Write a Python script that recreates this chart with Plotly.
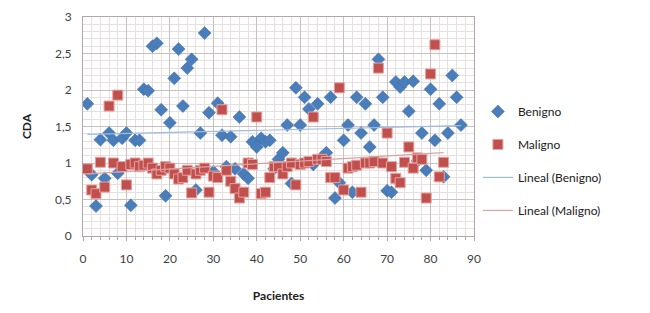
import numpy as np
import plotly.graph_objects as go

# Benigno series
ben_x = list(range(1, 88))
ben_y = [1.81, 0.84, 0.41, 1.32, 0.79, 1.41, 1.31, 0.86, 1.34, 1.41,
         0.42, 1.31, 1.31, 2.01, 1.99, 2.60, 2.64, 1.73, 0.55, 1.55,
         2.16, 2.56, 1.78, 2.30, 2.42, 0.63, 1.41, 2.78, 1.69, 0.88,
         1.82, 1.38, 0.95, 1.36, 0.92, 1.63, 0.85, 0.79, 1.29, 1.22,
         1.34, 1.29, 1.31, 0.92, 1.05, 1.14, 1.52, 0.72, 2.03, 1.52,
         1.90, 1.74, 0.98, 1.81, 1.08, 1.14, 1.90, 0.52, 0.73, 1.31,
         1.52, 0.60, 1.90, 1.41, 1.81, 1.22, 1.52, 2.42, 1.90, 0.62,
         0.60, 2.11, 2.04, 2.11, 1.71, 2.12, 1.03, 1.41, 0.90, 2.01,
         1.31, 1.81, 0.81, 1.41, 2.20, 1.90, 1.52]

# Maligno series
mal_x = list(range(1, 84))
mal_y = [0.92, 0.63, 0.58, 1.01, 0.67, 1.78, 1.00, 1.93, 0.95, 0.70,
         0.98, 1.00, 0.95, 0.97, 1.00, 0.93, 0.85, 0.90, 0.95, 0.93,
         0.85, 0.78, 0.80, 0.90, 0.59, 0.85, 0.90, 0.93, 0.60, 0.82,
         0.80, 1.73, 0.90, 0.75, 0.65, 0.52, 0.60, 1.00, 0.98, 1.63,
         0.58, 0.60, 0.80, 0.95, 0.95, 0.85, 0.95, 1.00, 0.70, 0.98,
         1.00, 1.02, 1.63, 1.05, 1.05, 1.02, 0.80, 0.80, 2.03, 0.63,
         0.93, 0.95, 0.97, 0.60, 1.00, 1.00, 1.02, 2.30, 1.00, 1.41,
         0.95, 0.79, 0.73, 1.01, 1.22, 0.93, 1.07, 1.05, 0.52, 2.22,
         2.62, 0.81, 1.01]

x_ticks = [0, 10, 20, 30, 40, 50, 60, 70, 80, 90]
y_ticks = [0, 0.5, 1, 1.5, 2, 2.5, 3]


def trend(xs, ys):
    m, b = np.polyfit(xs, ys, 1)
    tx = [min(xs), max(xs)]
    return tx, [m * v + b for v in tx]


btx, bty = trend(ben_x, ben_y)
mtx, mty = trend(mal_x, mal_y)

font = "Lato, 'Open Sans', sans-serif"

fig = go.Figure()
fig.add_trace(go.Scatter(
    x=ben_x, y=ben_y, mode="markers", name="Benigno", legendgroup="a",
    marker=dict(symbol="diamond", size=10, color="#4a7ebb",
                line=dict(width=0.5, color="#3c6aa3"))))
fig.add_trace(go.Scatter(
    x=mal_x, y=mal_y, mode="markers", name="Maligno", legendgroup="b",
    marker=dict(symbol="square", size=10, color="#c0504d",
                line=dict(width=1, color="#e8a09e"))))
fig.add_trace(go.Scatter(
    x=btx, y=bty, mode="lines", name="Lineal (Benigno)", legendgroup="c",
    line=dict(color="#9dbbe0", width=1.2)))
fig.add_trace(go.Scatter(
    x=mtx, y=mty, mode="lines", name="Lineal (Maligno)", legendgroup="d",
    line=dict(color="#d9a3a3", width=1.2)))

grid_major = "#c9bfbf"
grid_minor = "#e8e0e0"

fig.update_layout(
    width=650, height=313,
    margin=dict(l=75, r=184, t=9, b=85, autoexpand=False),
    paper_bgcolor="white", plot_bgcolor="white",
    separators=",.",
    font=dict(family=font, size=12, color="#404040"),
    showlegend=True,
    legend=dict(x=1.01, y=0.635, xanchor="left", yanchor="top",
                tracegroupgap=14, font=dict(size=12, color="#202020"),
                bgcolor="rgba(0,0,0,0)"),
    xaxis=dict(range=[0, 90], tickvals=x_ticks, showgrid=True,
               automargin=False,
               gridcolor=grid_major, gridwidth=1,
               minor=dict(dtick=2, showgrid=True, gridcolor=grid_minor,
                          ticks="outside", ticklen=3, tickcolor="#b0a8a8"),
               ticks="outside", ticklen=4, tickcolor="#b0a8a8",
               ticklabelstandoff=8,
               showline=True, linecolor="#b0a8a8", mirror=True,
               zeroline=False,
               title=dict(text="<b>Pacientes</b>", standoff=26,
                          font=dict(size=12, color="#202020")),
               tickfont=dict(size=12, color="#404040")),
    yaxis=dict(range=[0, 3], tickvals=y_ticks, showgrid=True,
               automargin=False,
               gridcolor=grid_major, gridwidth=1,
               minor=dict(dtick=0.1, showgrid=True, gridcolor=grid_minor),
               ticks="", showline=True, linecolor="#b0a8a8", mirror=True,
               ticklabelstandoff=8,
               zeroline=False,
               title=dict(text="<b>CDA</b>", standoff=20,
                          font=dict(size=12, color="#202020")),
               tickfont=dict(size=12, color="#404040")),
)

fig.write_html("out.html")
